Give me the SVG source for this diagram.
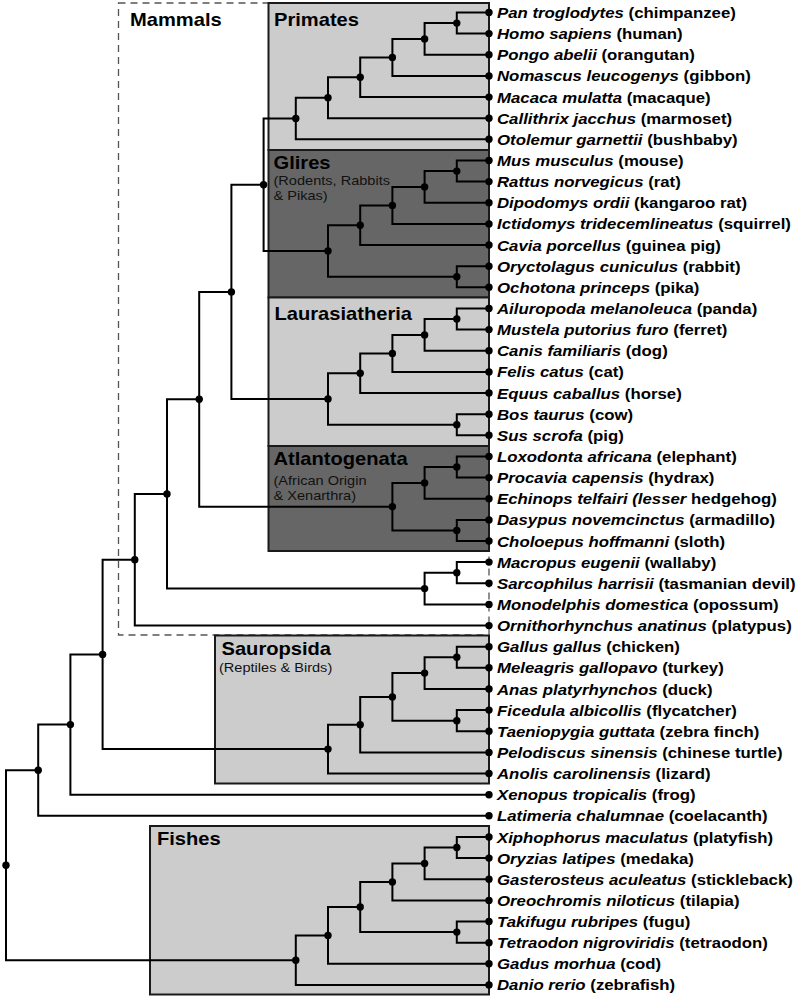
<svg xmlns="http://www.w3.org/2000/svg" width="800" height="999" viewBox="0 0 800 999">
<style>
.bg{fill:#ffffff}
.lt{fill:#cccccc;stroke:#1a1a1a;stroke-width:2}
.dk{fill:#666666;stroke:#1a1a1a;stroke-width:2}
.dash{fill:none;stroke:#555555;stroke-width:1.3;stroke-dasharray:7 5}
.e{fill:none;stroke:#000000;stroke-width:2;stroke-linejoin:miter}
.d{fill:#000000}
.lf{font-family:"Liberation Sans",Arial,sans-serif;font-size:14px;font-weight:bold;fill:#000000}
.i{font-style:italic}
.t{font-family:"Liberation Sans",Arial,sans-serif;font-size:17.5px;font-weight:bold;fill:#000000}
.s{font-family:"Liberation Sans",Arial,sans-serif;font-size:13px;fill:#111111}
</style>
<rect class="bg" x="0" y="0" width="800" height="999"/>
<g id="clades">
<g id="mammals"><rect class="dash" x="118.5" y="3" width="370.5" height="632"/><text class="t" transform="translate(130 25.5) scale(1.15 1)">Mammals</text></g>
<g id="primates"><rect class="lt" x="268.5" y="3" width="220.5" height="147"/><text class="t" transform="translate(274 25.5) scale(1.15 1)">Primates</text></g>
<g id="glires"><rect class="dk" x="268.5" y="150" width="220.5" height="147.5"/><text class="t" transform="translate(273.5 168.5) scale(1.15 1)">Glires</text><text class="s" transform="translate(273.5 184.5) scale(1.12 1)">(Rodents, Rabbits</text><text class="s" transform="translate(273.5 199.5) scale(1.12 1)">&amp; Pikas)</text></g>
<g id="laurasiatheria"><rect class="lt" x="268.5" y="297.5" width="220.5" height="148.5"/><text class="t" transform="translate(274.5 319.5) scale(1.15 1)">Laurasiatheria</text></g>
<g id="atlantogenata"><rect class="dk" x="268.5" y="446" width="220.5" height="105"/><text class="t" transform="translate(273.5 465) scale(1.15 1)">Atlantogenata</text><text class="s" transform="translate(273.5 484.5) scale(1.12 1)">(African Origin</text><text class="s" transform="translate(273.5 499.5) scale(1.12 1)">&amp; Xenarthra)</text></g>
<g id="sauropsida"><rect class="lt" x="215" y="635.5" width="274" height="148"/><text class="t" transform="translate(221.5 655) scale(1.15 1)">Sauropsida</text><text class="s" transform="translate(219 671.5) scale(1.12 1)">(Reptiles &amp; Birds)</text></g>
<g id="fishes"><rect class="lt" x="150" y="826" width="339" height="168.5"/><text class="t" transform="translate(157 845) scale(1.15 1)">Fishes</text></g>
</g>
<g id="connectors">
<path class="e" d="M489 12.5 H456.8 V33.6 H489"/>
<path class="e" d="M456.8 23.1 H424.6 V54.8 H489"/>
<path class="e" d="M424.6 38.9 H392.4 V75.9 H489"/>
<path class="e" d="M392.4 57.4 H360.2 V97.1 H489"/>
<path class="e" d="M360.2 77.2 H328 V118.2 H489"/>
<path class="e" d="M328 97.7 H295.8 V139.3 H489"/>
<path class="e" d="M489 160.5 H456.8 V181.6 H489"/>
<path class="e" d="M456.8 171.1 H424.6 V202.8 H489"/>
<path class="e" d="M424.6 186.9 H392.4 V223.9 H489"/>
<path class="e" d="M392.4 205.4 H360.2 V245 H489"/>
<path class="e" d="M489 266.2 H456.8 V287.3 H489"/>
<path class="e" d="M360.2 225.2 H328 V276.8 H456.8"/>
<path class="e" d="M295.8 118.5 H263.6 V251 H328"/>
<path class="e" d="M489 308.5 H456.8 V329.6 H489"/>
<path class="e" d="M456.8 319 H424.6 V350.7 H489"/>
<path class="e" d="M424.6 334.9 H392.4 V371.9 H489"/>
<path class="e" d="M392.4 353.4 H360.2 V393 H489"/>
<path class="e" d="M489 414.2 H456.8 V435.3 H489"/>
<path class="e" d="M360.2 373.2 H328 V424.7 H456.8"/>
<path class="e" d="M263.6 184.8 H231.4 V399 H328"/>
<path class="e" d="M489 456.4 H456.8 V477.6 H489"/>
<path class="e" d="M456.8 467 H424.6 V498.7 H489"/>
<path class="e" d="M489 519.9 H456.8 V541 H489"/>
<path class="e" d="M424.6 482.9 H392.4 V530.4 H456.8"/>
<path class="e" d="M231.4 291.9 H199.2 V506.7 H392.4"/>
<path class="e" d="M489 562.1 H456.8 V583.3 H489"/>
<path class="e" d="M456.8 572.7 H424.6 V604.4 H489"/>
<path class="e" d="M199.2 399.3 H167 V588.6 H424.6"/>
<path class="e" d="M167 493.9 H134.8 V625.6 H489"/>
<path class="e" d="M489 646.7 H456.8 V667.8 H489"/>
<path class="e" d="M456.8 657.3 H424.6 V689 H489"/>
<path class="e" d="M489 710.1 H456.8 V731.3 H489"/>
<path class="e" d="M424.6 673.1 H392.4 V720.7 H456.8"/>
<path class="e" d="M392.4 696.9 H360.2 V752.4 H489"/>
<path class="e" d="M360.2 724.7 H328 V773.5 H489"/>
<path class="e" d="M134.8 559.7 H102.6 V749.1 H328"/>
<path class="e" d="M102.6 654.4 H70.4 V794.7 H489"/>
<path class="e" d="M70.4 724.6 H38.2 V815.8 H489"/>
<path class="e" d="M489 837 H456.8 V858.1 H489"/>
<path class="e" d="M456.8 847.5 H424.6 V879.2 H489"/>
<path class="e" d="M424.6 863.4 H392.4 V900.4 H489"/>
<path class="e" d="M489 921.5 H456.8 V942.7 H489"/>
<path class="e" d="M392.4 881.9 H360.2 V932.1 H456.8"/>
<path class="e" d="M360.2 907 H328 V963.8 H489"/>
<path class="e" d="M328 935.4 H295.8 V984.9 H489"/>
<path class="e" d="M38.2 770.2 H6 V960.2 H295.8"/>
</g>
<g id="internal-nodes">
<circle id="n-p1" class="d" cx="456.8" cy="23.1" r="3.7"/>
<circle id="n-p2" class="d" cx="424.6" cy="38.9" r="3.7"/>
<circle id="n-p3" class="d" cx="392.4" cy="57.4" r="3.7"/>
<circle id="n-p4" class="d" cx="360.2" cy="77.2" r="3.7"/>
<circle id="n-p5" class="d" cx="328" cy="97.7" r="3.7"/>
<circle id="n-p6" class="d" cx="295.8" cy="118.5" r="3.7"/>
<circle id="n-g1" class="d" cx="456.8" cy="171.1" r="3.7"/>
<circle id="n-g2" class="d" cx="424.6" cy="186.9" r="3.7"/>
<circle id="n-g3" class="d" cx="392.4" cy="205.4" r="3.7"/>
<circle id="n-g4" class="d" cx="360.2" cy="225.2" r="3.7"/>
<circle id="n-gl" class="d" cx="456.8" cy="276.8" r="3.7"/>
<circle id="n-g5" class="d" cx="328" cy="251" r="3.7"/>
<circle id="n-ea" class="d" cx="263.6" cy="184.8" r="3.7"/>
<circle id="n-l1" class="d" cx="456.8" cy="319" r="3.7"/>
<circle id="n-l2" class="d" cx="424.6" cy="334.9" r="3.7"/>
<circle id="n-l3" class="d" cx="392.4" cy="353.4" r="3.7"/>
<circle id="n-l4" class="d" cx="360.2" cy="373.2" r="3.7"/>
<circle id="n-lb" class="d" cx="456.8" cy="424.7" r="3.7"/>
<circle id="n-l5" class="d" cx="328" cy="399" r="3.7"/>
<circle id="n-bo" class="d" cx="231.4" cy="291.9" r="3.7"/>
<circle id="n-a1" class="d" cx="456.8" cy="467" r="3.7"/>
<circle id="n-a2" class="d" cx="424.6" cy="482.9" r="3.7"/>
<circle id="n-ax" class="d" cx="456.8" cy="530.4" r="3.7"/>
<circle id="n-a3" class="d" cx="392.4" cy="506.7" r="3.7"/>
<circle id="n-eu" class="d" cx="199.2" cy="399.3" r="3.7"/>
<circle id="n-m1" class="d" cx="456.8" cy="572.7" r="3.7"/>
<circle id="n-m2" class="d" cx="424.6" cy="588.6" r="3.7"/>
<circle id="n-th" class="d" cx="167" cy="493.9" r="3.7"/>
<circle id="n-ma" class="d" cx="134.8" cy="559.7" r="3.7"/>
<circle id="n-s1" class="d" cx="456.8" cy="657.3" r="3.7"/>
<circle id="n-s2" class="d" cx="424.6" cy="673.1" r="3.7"/>
<circle id="n-sf" class="d" cx="456.8" cy="720.7" r="3.7"/>
<circle id="n-s3" class="d" cx="392.4" cy="696.9" r="3.7"/>
<circle id="n-s4" class="d" cx="360.2" cy="724.7" r="3.7"/>
<circle id="n-s5" class="d" cx="328" cy="749.1" r="3.7"/>
<circle id="n-am" class="d" cx="102.6" cy="654.4" r="3.7"/>
<circle id="n-te" class="d" cx="70.4" cy="724.6" r="3.7"/>
<circle id="n-sa" class="d" cx="38.2" cy="770.2" r="3.7"/>
<circle id="n-f1" class="d" cx="456.8" cy="847.5" r="3.7"/>
<circle id="n-f2" class="d" cx="424.6" cy="863.4" r="3.7"/>
<circle id="n-f3" class="d" cx="392.4" cy="881.9" r="3.7"/>
<circle id="n-ft" class="d" cx="456.8" cy="932.1" r="3.7"/>
<circle id="n-f4" class="d" cx="360.2" cy="907" r="3.7"/>
<circle id="n-f5" class="d" cx="328" cy="935.4" r="3.7"/>
<circle id="n-f6" class="d" cx="295.8" cy="960.2" r="3.7"/>
<circle id="n-root" class="d" cx="6" cy="865.2" r="3.7"/>
</g>
<g id="leaves">
<g id="leaf-00"><circle class="d" cx="489" cy="12.5" r="3.7"/><text class="lf" transform="translate(497 18) scale(1.2 1)"><tspan class="i">Pan troglodytes</tspan> (chimpanzee)</text></g>
<g id="leaf-01"><circle class="d" cx="489" cy="33.6" r="3.7"/><text class="lf" transform="translate(497 39.1) scale(1.2 1)"><tspan class="i">Homo sapiens</tspan> (human)</text></g>
<g id="leaf-02"><circle class="d" cx="489" cy="54.8" r="3.7"/><text class="lf" transform="translate(497 60.3) scale(1.2 1)"><tspan class="i">Pongo abelii</tspan> (orangutan)</text></g>
<g id="leaf-03"><circle class="d" cx="489" cy="75.9" r="3.7"/><text class="lf" transform="translate(497 81.4) scale(1.2 1)"><tspan class="i">Nomascus leucogenys</tspan> (gibbon)</text></g>
<g id="leaf-04"><circle class="d" cx="489" cy="97.1" r="3.7"/><text class="lf" transform="translate(497 102.6) scale(1.2 1)"><tspan class="i">Macaca mulatta</tspan> (macaque)</text></g>
<g id="leaf-05"><circle class="d" cx="489" cy="118.2" r="3.7"/><text class="lf" transform="translate(497 123.7) scale(1.2 1)"><tspan class="i">Callithrix jacchus</tspan> (marmoset)</text></g>
<g id="leaf-06"><circle class="d" cx="489" cy="139.3" r="3.7"/><text class="lf" transform="translate(497 144.8) scale(1.2 1)"><tspan class="i">Otolemur garnettii</tspan> (bushbaby)</text></g>
<g id="leaf-07"><circle class="d" cx="489" cy="160.5" r="3.7"/><text class="lf" transform="translate(497 166) scale(1.2 1)"><tspan class="i">Mus musculus</tspan> (mouse)</text></g>
<g id="leaf-08"><circle class="d" cx="489" cy="181.6" r="3.7"/><text class="lf" transform="translate(497 187.1) scale(1.2 1)"><tspan class="i">Rattus norvegicus</tspan> (rat)</text></g>
<g id="leaf-09"><circle class="d" cx="489" cy="202.8" r="3.7"/><text class="lf" transform="translate(497 208.3) scale(1.2 1)"><tspan class="i">Dipodomys ordii</tspan> (kangaroo rat)</text></g>
<g id="leaf-10"><circle class="d" cx="489" cy="223.9" r="3.7"/><text class="lf" transform="translate(497 229.4) scale(1.2 1)"><tspan class="i">Ictidomys tridecemlineatus</tspan> (squirrel)</text></g>
<g id="leaf-11"><circle class="d" cx="489" cy="245" r="3.7"/><text class="lf" transform="translate(497 250.5) scale(1.2 1)"><tspan class="i">Cavia porcellus</tspan> (guinea pig)</text></g>
<g id="leaf-12"><circle class="d" cx="489" cy="266.2" r="3.7"/><text class="lf" transform="translate(497 271.7) scale(1.2 1)"><tspan class="i">Oryctolagus cuniculus</tspan> (rabbit)</text></g>
<g id="leaf-13"><circle class="d" cx="489" cy="287.3" r="3.7"/><text class="lf" transform="translate(497 292.8) scale(1.2 1)"><tspan class="i">Ochotona princeps</tspan> (pika)</text></g>
<g id="leaf-14"><circle class="d" cx="489" cy="308.5" r="3.7"/><text class="lf" transform="translate(497 314) scale(1.2 1)"><tspan class="i">Ailuropoda melanoleuca</tspan> (panda)</text></g>
<g id="leaf-15"><circle class="d" cx="489" cy="329.6" r="3.7"/><text class="lf" transform="translate(497 335.1) scale(1.2 1)"><tspan class="i">Mustela putorius furo</tspan> (ferret)</text></g>
<g id="leaf-16"><circle class="d" cx="489" cy="350.7" r="3.7"/><text class="lf" transform="translate(497 356.2) scale(1.2 1)"><tspan class="i">Canis familiaris</tspan> (dog)</text></g>
<g id="leaf-17"><circle class="d" cx="489" cy="371.9" r="3.7"/><text class="lf" transform="translate(497 377.4) scale(1.2 1)"><tspan class="i">Felis catus</tspan> (cat)</text></g>
<g id="leaf-18"><circle class="d" cx="489" cy="393" r="3.7"/><text class="lf" transform="translate(497 398.5) scale(1.2 1)"><tspan class="i">Equus caballus</tspan> (horse)</text></g>
<g id="leaf-19"><circle class="d" cx="489" cy="414.2" r="3.7"/><text class="lf" transform="translate(497 419.7) scale(1.2 1)"><tspan class="i">Bos taurus</tspan> (cow)</text></g>
<g id="leaf-20"><circle class="d" cx="489" cy="435.3" r="3.7"/><text class="lf" transform="translate(497 440.8) scale(1.2 1)"><tspan class="i">Sus scrofa</tspan> (pig)</text></g>
<g id="leaf-21"><circle class="d" cx="489" cy="456.4" r="3.7"/><text class="lf" transform="translate(497 461.9) scale(1.2 1)"><tspan class="i">Loxodonta africana</tspan> (elephant)</text></g>
<g id="leaf-22"><circle class="d" cx="489" cy="477.6" r="3.7"/><text class="lf" transform="translate(497 483.1) scale(1.2 1)"><tspan class="i">Procavia capensis</tspan> (hydrax)</text></g>
<g id="leaf-23"><circle class="d" cx="489" cy="498.7" r="3.7"/><text class="lf" transform="translate(497 504.2) scale(1.2 1)"><tspan class="i">Echinops telfairi (lesser</tspan> hedgehog)</text></g>
<g id="leaf-24"><circle class="d" cx="489" cy="519.9" r="3.7"/><text class="lf" transform="translate(497 525.4) scale(1.2 1)"><tspan class="i">Dasypus novemcinctus</tspan> (armadillo)</text></g>
<g id="leaf-25"><circle class="d" cx="489" cy="541" r="3.7"/><text class="lf" transform="translate(497 546.5) scale(1.2 1)"><tspan class="i">Choloepus hoffmanni</tspan> (sloth)</text></g>
<g id="leaf-26"><circle class="d" cx="489" cy="562.1" r="3.7"/><text class="lf" transform="translate(497 567.6) scale(1.2 1)"><tspan class="i">Macropus eugenii</tspan> (wallaby)</text></g>
<g id="leaf-27"><circle class="d" cx="489" cy="583.3" r="3.7"/><text class="lf" transform="translate(497 588.8) scale(1.2 1)"><tspan class="i">Sarcophilus harrisii</tspan> (tasmanian devil)</text></g>
<g id="leaf-28"><circle class="d" cx="489" cy="604.4" r="3.7"/><text class="lf" transform="translate(497 609.9) scale(1.2 1)"><tspan class="i">Monodelphis domestica</tspan> (opossum)</text></g>
<g id="leaf-29"><circle class="d" cx="489" cy="625.6" r="3.7"/><text class="lf" transform="translate(497 631.1) scale(1.2 1)"><tspan class="i">Ornithorhynchus anatinus</tspan> (platypus)</text></g>
<g id="leaf-30"><circle class="d" cx="489" cy="646.7" r="3.7"/><text class="lf" transform="translate(497 652.2) scale(1.2 1)"><tspan class="i">Gallus gallus</tspan> (chicken)</text></g>
<g id="leaf-31"><circle class="d" cx="489" cy="667.8" r="3.7"/><text class="lf" transform="translate(497 673.3) scale(1.2 1)"><tspan class="i">Meleagris gallopavo</tspan> (turkey)</text></g>
<g id="leaf-32"><circle class="d" cx="489" cy="689" r="3.7"/><text class="lf" transform="translate(497 694.5) scale(1.2 1)"><tspan class="i">Anas platyrhynchos</tspan> (duck)</text></g>
<g id="leaf-33"><circle class="d" cx="489" cy="710.1" r="3.7"/><text class="lf" transform="translate(497 715.6) scale(1.2 1)"><tspan class="i">Ficedula albicollis</tspan> (flycatcher)</text></g>
<g id="leaf-34"><circle class="d" cx="489" cy="731.3" r="3.7"/><text class="lf" transform="translate(497 736.8) scale(1.2 1)"><tspan class="i">Taeniopygia guttata</tspan> (zebra finch)</text></g>
<g id="leaf-35"><circle class="d" cx="489" cy="752.4" r="3.7"/><text class="lf" transform="translate(497 757.9) scale(1.2 1)"><tspan class="i">Pelodiscus sinensis</tspan> (chinese turtle)</text></g>
<g id="leaf-36"><circle class="d" cx="489" cy="773.5" r="3.7"/><text class="lf" transform="translate(497 779) scale(1.2 1)"><tspan class="i">Anolis carolinensis</tspan> (lizard)</text></g>
<g id="leaf-37"><circle class="d" cx="489" cy="794.7" r="3.7"/><text class="lf" transform="translate(497 800.2) scale(1.2 1)"><tspan class="i">Xenopus tropicalis</tspan> (frog)</text></g>
<g id="leaf-38"><circle class="d" cx="489" cy="815.8" r="3.7"/><text class="lf" transform="translate(497 821.3) scale(1.2 1)"><tspan class="i">Latimeria chalumnae</tspan> (coelacanth)</text></g>
<g id="leaf-39"><circle class="d" cx="489" cy="837" r="3.7"/><text class="lf" transform="translate(497 842.5) scale(1.2 1)"><tspan class="i">Xiphophorus maculatus</tspan> (platyfish)</text></g>
<g id="leaf-40"><circle class="d" cx="489" cy="858.1" r="3.7"/><text class="lf" transform="translate(497 863.6) scale(1.2 1)"><tspan class="i">Oryzias latipes</tspan> (medaka)</text></g>
<g id="leaf-41"><circle class="d" cx="489" cy="879.2" r="3.7"/><text class="lf" transform="translate(497 884.7) scale(1.2 1)"><tspan class="i">Gasterosteus aculeatus</tspan> (stickleback)</text></g>
<g id="leaf-42"><circle class="d" cx="489" cy="900.4" r="3.7"/><text class="lf" transform="translate(497 905.9) scale(1.2 1)"><tspan class="i">Oreochromis niloticus</tspan> (tilapia)</text></g>
<g id="leaf-43"><circle class="d" cx="489" cy="921.5" r="3.7"/><text class="lf" transform="translate(497 927) scale(1.2 1)"><tspan class="i">Takifugu rubripes</tspan> (fugu)</text></g>
<g id="leaf-44"><circle class="d" cx="489" cy="942.7" r="3.7"/><text class="lf" transform="translate(497 948.2) scale(1.2 1)"><tspan class="i">Tetraodon nigroviridis</tspan> (tetraodon)</text></g>
<g id="leaf-45"><circle class="d" cx="489" cy="963.8" r="3.7"/><text class="lf" transform="translate(497 969.3) scale(1.2 1)"><tspan class="i">Gadus morhua</tspan> (cod)</text></g>
<g id="leaf-46"><circle class="d" cx="489" cy="984.9" r="3.7"/><text class="lf" transform="translate(497 990.4) scale(1.2 1)"><tspan class="i">Danio rerio</tspan> (zebrafish)</text></g>
</g>
</svg>
